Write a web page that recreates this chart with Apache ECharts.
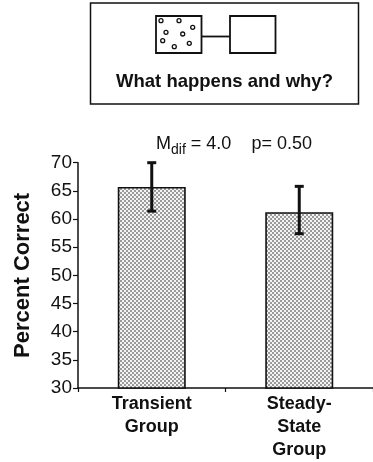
<!DOCTYPE html>
<html><head><meta charset="utf-8">
<script src="https://cdn.jsdelivr.net/npm/echarts@6/dist/echarts.min.js"></script>
<style>html,body{margin:0;padding:0;background:#fff}#c{width:373px;height:462px}</style>
</head><body><div id="c"></div>
<script>
const categories = ['Transient\nGroup', 'Steady-\nState\nGroup'];
const means = [65.7, 61.2];
const errLow = [61.4, 57.4];
const errHigh = [70.0, 65.8];
const yMin = 30, yMax = 70, yStep = 5;
const dots = [[161,20.7],[179,20.7],[192.7,27.3],[166,32.3],[182.7,34],[162.7,40.7],[189.3,43.3],[174.3,46.7]];

const F = '"Liberation Sans", Arial, Helvetica, sans-serif';
const pc = document.createElement('canvas');
pc.width = 4; pc.height = 4;
const g = pc.getContext('2d');
g.fillStyle = '#f4f4f4'; g.fillRect(0,0,4,4);
g.fillStyle = '#9a9a9a'; g.fillRect(0,0,2,2); g.fillRect(2,2,2,2);

const chart = echarts.init(document.getElementById('c'), null, {renderer:'canvas'});
const graphics = [
  {type:'rect', shape:{x:90.5,y:3,width:268,height:101}, style:{fill:'none',stroke:'#111',lineWidth:1.5}},
  {type:'rect', shape:{x:156,y:16,width:45.5,height:37}, style:{fill:'none',stroke:'#111',lineWidth:1.8}},
  {type:'line', shape:{x1:201.5,y1:36.5,x2:230,y2:36.5}, style:{stroke:'#111',lineWidth:1.8}},
  {type:'rect', shape:{x:230,y:16,width:45.5,height:37}, style:{fill:'none',stroke:'#111',lineWidth:1.8}},
  {type:'text', x:224.5, y:82, style:{text:'What happens and why?', font:'bold 18.5px '+F, fill:'#111', align:'center', verticalAlign:'middle'}}
];
dots.forEach(d => graphics.push({type:'circle', shape:{cx:d[0],cy:d[1],r:2}, style:{fill:'none',stroke:'#111',lineWidth:1.3}}));

chart.setOption({
  animation:false,
  backgroundColor:'#fff',
  title:{
    text:'{m|M}{s|dif}{m| = 4.0    p= 0.50}',
    left:229, top:126, textAlign:'center',
    textStyle:{fontWeight:'normal', rich:{
      m:{fontFamily:F, fontSize:18, fontWeight:'normal', color:'#111', verticalAlign:'bottom', lineHeight:22},
      s:{fontFamily:F, fontSize:14, fontWeight:'normal', color:'#111', verticalAlign:'bottom', lineHeight:22, padding:[0,0,-4,0]}
    }}
  },
  graphic: graphics,
  grid:{left:78, right:-4, top:162.7, bottom:72, containLabel:false},
  xAxis:{
    type:'category', data:categories,
    axisLine:{lineStyle:{color:'#111', width:1.5}},
    axisTick:{show:true, length:4, lineStyle:{color:'#111', width:1.2}},
    axisLabel:{margin:5, fontFamily:F, fontWeight:'bold', fontSize:18, lineHeight:23, color:'#111', interval:0}
  },
  yAxis:{
    type:'value', min:yMin, max:yMax, interval:yStep,
    name:'Percent Correct', nameLocation:'middle', nameGap:44, nameRotate:90,
    nameTextStyle:{fontFamily:F, fontWeight:'bold', fontSize:22, color:'#111'},
    splitLine:{show:false},
    axisLine:{show:true, lineStyle:{color:'#111', width:1.5}},
    axisTick:{show:true, length:5, lineStyle:{color:'#111', width:1.2}},
    axisLabel:{margin:6, fontFamily:F, fontSize:19, color:'#111'}
  },
  series:[
    {type:'bar', data:means, barWidth:68,
     itemStyle:{color:{image:pc, repeat:'repeat'}, borderColor:'#111', borderWidth:1.6}},
    {type:'custom', data:categories.map((c,i)=>[i, errLow[i], errHigh[i]]),
     z:5,
     renderItem:function(params, api){
       const lo = api.coord([api.value(0), api.value(1)]);
       const hi = api.coord([api.value(0), api.value(2)]);
       const hw = 4.5;
       const st = {stroke:'#111', lineWidth:3};
       return {type:'group', children:[
         {type:'line', shape:{x1:lo[0],y1:lo[1],x2:hi[0],y2:hi[1]}, style:st},
         {type:'line', shape:{x1:lo[0]-hw,y1:lo[1],x2:lo[0]+hw,y2:lo[1]}, style:st},
         {type:'line', shape:{x1:hi[0]-hw,y1:hi[1],x2:hi[0]+hw,y2:hi[1]}, style:st}
       ]};
     }}
  ]
});
</script></body></html>
